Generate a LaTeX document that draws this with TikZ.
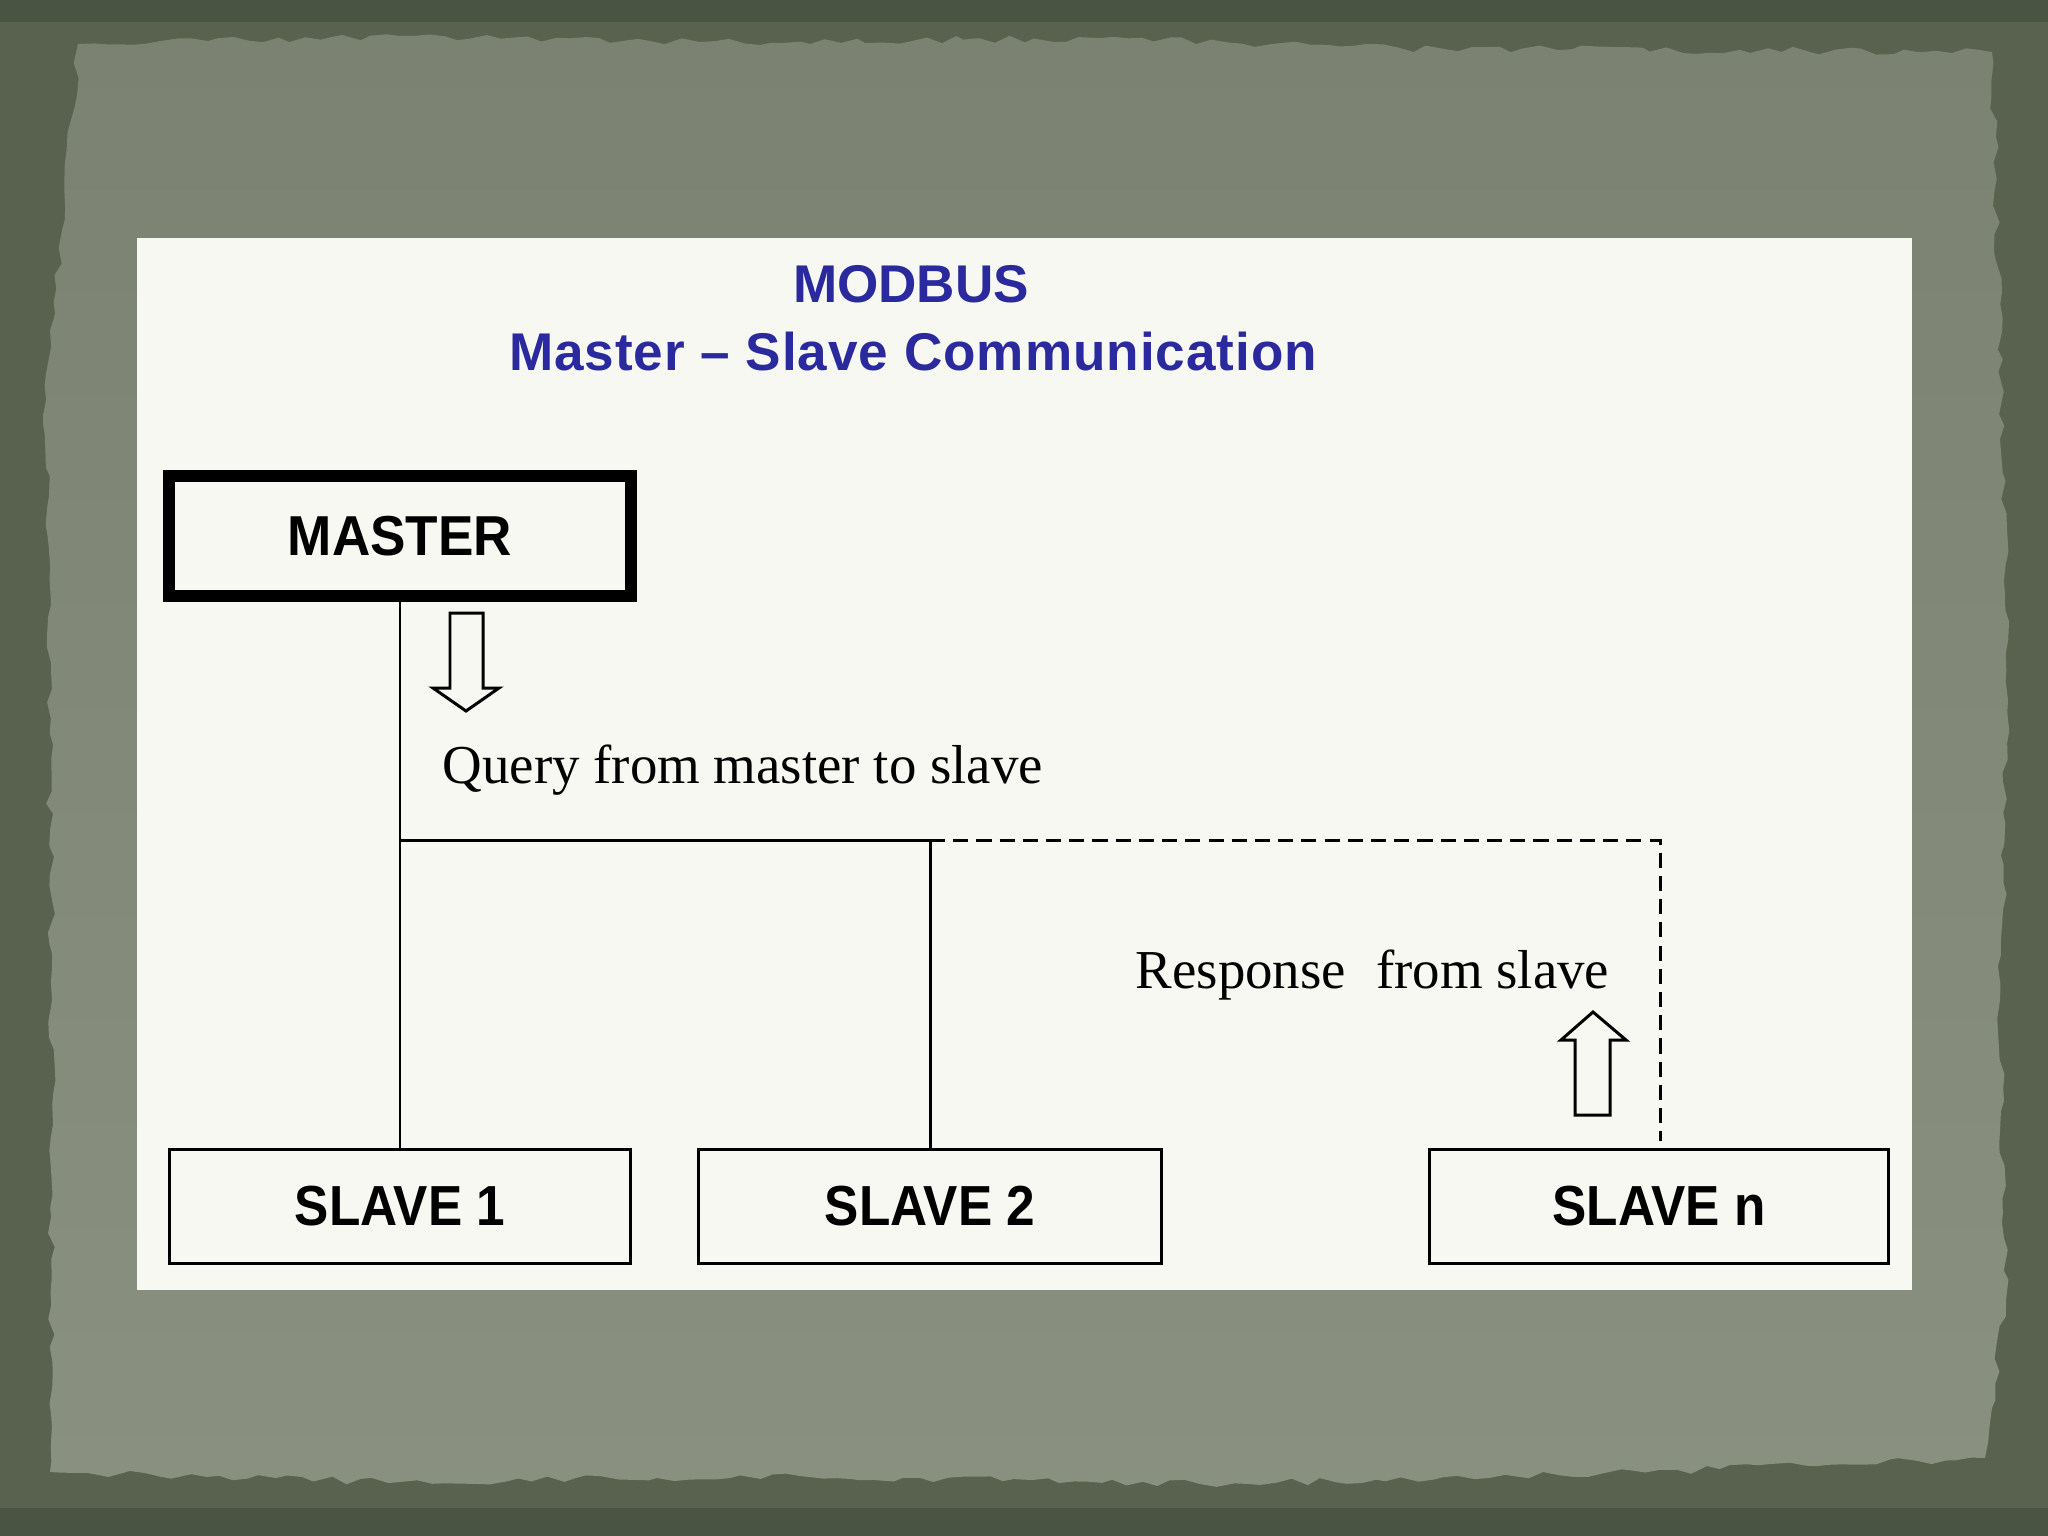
\documentclass[tikz,border=0pt]{standalone}
\usepackage{fontspec}
\usepackage{graphicx}
\setmainfont{Liberation Serif}
\setsansfont{Liberation Sans}
\usetikzlibrary{decorations.pathmorphing}
\definecolor{outerbg}{RGB}{88,98,78}
\definecolor{outerdark}{RGB}{74,84,66}
\definecolor{papertop}{RGB}{124,130,114}
\definecolor{paperbot}{RGB}{138,144,128}
\definecolor{panel}{RGB}{247,248,242}
\definecolor{titleblue}{RGB}{42,42,158}
\tikzset{
  titletext/.style={font=\sffamily\bfseries\fontsize{15.1pt}{18pt}\selectfont, text=titleblue, inner sep=0pt, anchor=base},
  masterbox/.style={draw=black, line width=3.4pt, minimum width=4.62cm, minimum height=1.2cm, inner sep=0pt, fill=panel},
  slavebox/.style={draw=black, line width=0.85pt, minimum height=1.14cm, inner sep=0pt, fill=panel},
  labeltext/.style={font=\fontsize{15.6pt}{18pt}\selectfont, inner sep=0pt, anchor=base west},
  wire/.style={draw=black, line width=0.85pt},
  dashwire/.style={draw=black, line width=0.85pt, dash pattern=on 4.3pt off 2.3pt},
  hollowarrow/.style={draw=black, line width=0.85pt, fill=panel, line join=miter}
}
\begin{document}
\begin{tikzpicture}[x=0.01cm, y=-0.01cm]
\useasboundingbox (0,0) rectangle (2048,1536);
% background
\fill[outerbg] (0,0) rectangle (2048,1536);
\fill[outerdark] (0,0) rectangle (2048,22);
\fill[outerdark] (0,1508) rectangle (2048,1536);
\pgfmathsetseed{11}
\shade[top color=papertop, bottom color=paperbot, decorate, decoration={random steps, segment length=4pt, amplitude=1.1pt}]
  (78,44) -- (400,36) -- (700,42) -- (1100,38) -- (1400,48) -- (1992,52) -- (2002,400) -- (2008,700) -- (2000,1000) -- (2006,1300) -- (1985,1458) -- (1600,1474) -- (1200,1484) -- (800,1476) -- (400,1482) -- (50,1472) -- (52,1000) -- (46,400) -- cycle;
% white panel
\fill[panel] (137,238) rectangle (1912,1290);
% title
\node[titletext] (title1) at (911,302) {MODBUS};
\node[titletext] (title2) at (913,370) {\addfontfeature{LetterSpace=1.8}Master – Slave Communication};
% boxes
\node[masterbox] (master) at (400,536) {\sffamily\bfseries\fontsize{15.1pt}{18pt}\selectfont\scalebox{1}[1.06]{MASTER}};
\node[slavebox, minimum width=4.61cm] (slave1) at (400,1206.5) {\sffamily\bfseries\fontsize{14.6pt}{17pt}\selectfont\scalebox{1}[1.1]{SLAVE 1}};
\node[slavebox, minimum width=4.63cm] (slave2) at (930,1206.5) {\sffamily\bfseries\fontsize{14.6pt}{17pt}\selectfont\scalebox{1}[1.1]{SLAVE 2}};
\node[slavebox, minimum width=4.59cm] (slaven) at (1659,1206.5) {\sffamily\bfseries\fontsize{14.6pt}{17pt}\selectfont\scalebox{1}[1.1]{SLAVE n}};
% bus
\coordinate (bus1) at (400,840);
\coordinate (bus2) at (930,840);
\coordinate (bus3) at (1660,840);
\coordinate (dashend) at (1660,1141);
\draw[wire] (master.south) -- (slave1.north);
\draw[wire] (bus1) -- (bus2) -- (slave2.north);
\draw[dashwire] (bus2) -- (bus3) -- (dashend);
% labels
\node[labeltext] (query) at (442,783) {Query from master to slave};
\node[labeltext] (resp) at (1135,988) {Response\hspace{0.55em}from slave};
% hollow arrows
\draw[hollowarrow] (450,613) -- (483,613) -- (483,688) -- (499,688) -- (466,711) -- (433,688) -- (450,688) -- cycle;
\draw[hollowarrow] (1575,1115) -- (1610,1115) -- (1610,1040) -- (1626,1040) -- (1593,1012) -- (1561,1040) -- (1575,1040) -- cycle;
\end{tikzpicture}
\end{document}
